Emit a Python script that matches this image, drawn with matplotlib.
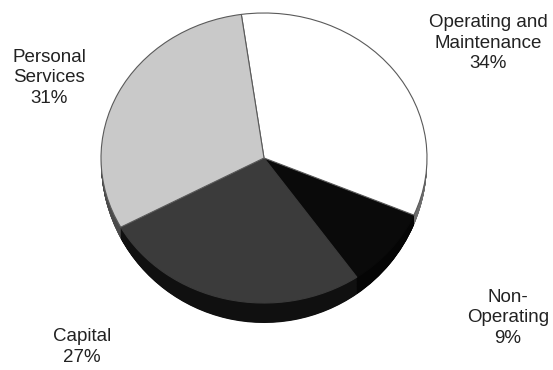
import matplotlib
matplotlib.use("Agg")
import matplotlib.pyplot as plt
import numpy as np
from matplotlib.patches import Wedge
from matplotlib.transforms import Affine2D

plt.rcParams["font.family"] = ["Liberation Sans", "DejaVu Sans"]

# --- data -------------------------------------------------------------------
categories = ["Operating and\nMaintenance", "Non-\nOperating", "Capital", "Personal\nServices"]
shares = [34, 9, 27, 31]

# --- look -------------------------------------------------------------------
top_colors = ["#ffffff", "#0a0a0a", "#3b3b3b", "#c9c9c9"]
edge_colors = ["#5a5a5a", "#0a0a0a", "#3b3b3b", "#5a5a5a"]
side_colors = ["#6e6e6e", "#050505", "#101010", "#4a4a4a"]
label_xy = [(488, 43), (508, 318), (82, 347), (49, 78)]   # pixel centres of labels

W, H = 553, 370
CX, CY, RX, RY = 264, 158, 163, 145
SHIFT, GROW = 4, 16      # side thickness at the rim ends / extra at the front
START = 98
NLAYERS = 40

fig = plt.figure(figsize=(W / 100, H / 100), dpi=100)
ax = fig.add_axes([0, 0, 1, 1])

# slice angles, clockwise from START (same as the pie below)
frac = np.asarray(shares, float) / np.sum(shares)
edges = START - 360 * np.concatenate([[0], np.cumsum(frac)])

# side of the disk: stacked lower halves, deeper towards the front
for k in range(NLAYERS, 0, -1):
    f = k / NLAYERS
    tr = (Affine2D().scale(1, (RY + f * GROW) / RY).translate(0, -f * SHIFT / RY)
          + ax.transData)
    for i, col in enumerate(side_colors):
        lo, hi = max(edges[i + 1], -180), min(edges[i], 0)
        if hi > lo:
            ax.add_patch(Wedge((0, 0), 1, lo, hi, facecolor=col, linewidth=0,
                               transform=tr))

# top face
wedges, _ = ax.pie(shares, colors=top_colors, startangle=START, counterclock=False,
                   radius=1, wedgeprops=dict(linewidth=0.8))
for w, ec in zip(wedges, edge_colors):
    w.set_edgecolor(ec)
# light slices drawn last so their outlines stay on top
for w in (wedges[0], wedges[3]):
    w.set_zorder(w.get_zorder() + 0.1)

ax.set_aspect("auto")
ax.set_xlim(-CX / RX, (W - CX) / RX)
ax.set_ylim(-(H - CY) / RY, CY / RY)
ax.axis("off")

for (px, py), cat, s in zip(label_xy, categories, shares):
    fig.text(px / W, 1 - py / H, f"{cat}\n{s}%", ha="center", va="center",
             fontsize=13.5, color="#222222", linespacing=1.3)

fig.savefig("out.png", dpi=100)
